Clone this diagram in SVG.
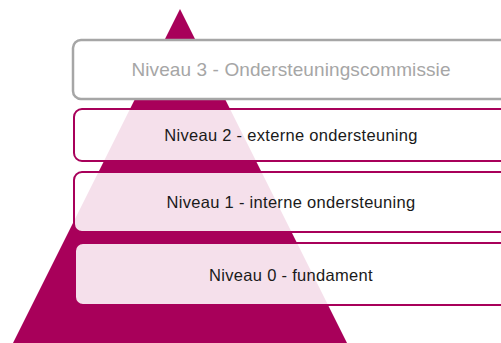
<svg xmlns="http://www.w3.org/2000/svg" width="501" height="343" viewBox="0 0 501 343">
<style>
.lvl{fill:#ffffff;fill-opacity:0.88;stroke:#a8005a;stroke-width:2}
.top{fill:#ffffff;stroke:#a6a6a6;stroke-width:2.5}
.t{font-family:"Liberation Sans",Arial,sans-serif;text-anchor:middle;fill:#1a1a1a;font-size:16.5px;letter-spacing:0.3px}
.t3{fill:#a6a6a6;font-size:19px;letter-spacing:0.1px}
</style>
<rect width="501" height="343" fill="#ffffff"/>
<polygon id="pyramid" points="180,9 13,343 347,343" fill="#a8005a"/>
<g id="level3">
<rect class="top" x="73" y="40" width="440" height="59" rx="8"/>
<text class="t t3" x="291" y="76">Niveau 3 - Ondersteuningscommissie</text>
</g>
<g id="level2">
<rect class="lvl" x="74" y="109" width="440" height="52" rx="8"/>
<text class="t" x="291" y="141">Niveau 2 - externe ondersteuning</text>
</g>
<g id="level1">
<rect class="lvl" x="74" y="172" width="440" height="60" rx="8"/>
<text class="t" x="291" y="208">Niveau 1 - interne ondersteuning</text>
</g>
<g id="level0">
<rect class="lvl" x="75" y="243" width="440" height="62" rx="8"/>
<text class="t" x="291" y="281">Niveau 0 - fundament</text>
</g>
</svg>
